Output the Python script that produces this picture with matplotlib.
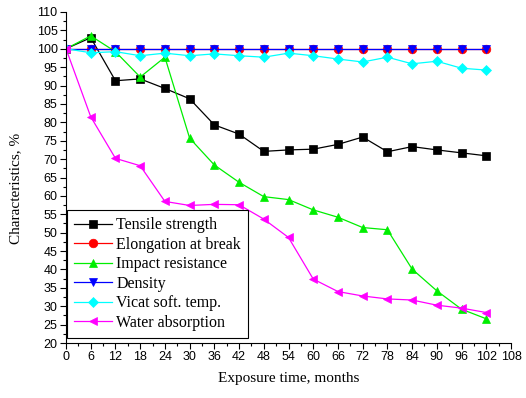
import matplotlib
matplotlib.use("Agg")
import matplotlib.pyplot as plt
from matplotlib.ticker import MultipleLocator

months = [0, 6, 12, 18, 24, 30, 36, 42, 48, 54, 60, 66, 72, 78, 84, 90, 96, 102]

tensile = [100, 103, 91.3, 91.8, 89.2, 86.4, 79.3, 76.8, 72.1, 72.5,
           72.7, 74.0, 76.0, 72.0, 73.4, 72.5, 71.7, 70.9]
elongation = [100] * 18
impact = [100, 103.5, 99.2, 92.3, 97.7, 75.7, 68.4, 63.7, 59.8, 59.0,
          56.2, 54.2, 51.4, 50.8, 40.1, 34.2, 29.2, 26.6]
density = [100] * 18
vicat = [100, 98.9, 99.2, 98.1, 98.8, 98.1, 98.6, 98.1, 97.7, 98.8,
         98.1, 97.2, 96.4, 97.7, 95.9, 96.6, 94.7, 94.2]
water = [100, 81.5, 70.2, 68.2, 58.5, 57.4, 57.7, 57.6, 53.7, 48.7,
         37.4, 34.0, 32.8, 32.0, 31.7, 30.3, 29.5, 28.3]

series = [
    ("Tensile strength", tensile, "black", "s"),
    ("Elongation at break", elongation, "red", "o"),
    ("Impact resistance", impact, "#00ee00", "^"),
    ("Density", density, "blue", "v"),
    ("Vicat soft. temp.", vicat, "cyan", "D"),
    ("Water absorption", water, "magenta", "<"),
]

fig = plt.figure(figsize=(5.26, 3.98), dpi=100)
ax = fig.add_axes([0.1255, 0.138, 0.846, 0.832])

for label, vals, col, mk in series:
    ms = 5.2 if mk == "D" else 6.2
    ax.plot(months, vals, color=col, lw=0.9, marker=mk, ms=ms,
            mfc=col, mec=col, mew=0.5, label=label)

ax.set_xlim(0, 108)
ax.set_ylim(20, 110)
ax.xaxis.set_major_locator(MultipleLocator(6))
ax.xaxis.set_minor_locator(MultipleLocator(3))
ax.yaxis.set_major_locator(MultipleLocator(5))
ax.yaxis.set_minor_locator(MultipleLocator(2.5))
ax.tick_params(which="major", direction="out", length=4, width=0.8,
               labelsize=9, pad=2)
ax.tick_params(which="minor", direction="out", length=2.5, width=0.8)
for lab in ax.get_xticklabels() + ax.get_yticklabels():
    lab.set_family("Liberation Sans")

ax.spines["top"].set_visible(False)
ax.spines["right"].set_visible(False)

ax.set_xlabel("Exposure time, months", family="Liberation Serif",
              fontsize=11, labelpad=6)
ax.set_ylabel("Characteristics, %", family="Liberation Serif", fontsize=11)
ax.yaxis.set_label_coords(-0.098, 0.468)

leg = ax.legend(loc="lower left", bbox_to_anchor=(0.002, 0.015),
                borderaxespad=0, prop={"family": "Liberation Serif", "size": 11.5},
                handlelength=2.4, handletextpad=0.25, labelspacing=0.22,
                borderpad=0.45, fancybox=False, framealpha=1, edgecolor="black")
leg.get_frame().set_linewidth(0.8)

fig.savefig("out.png", dpi=100)
